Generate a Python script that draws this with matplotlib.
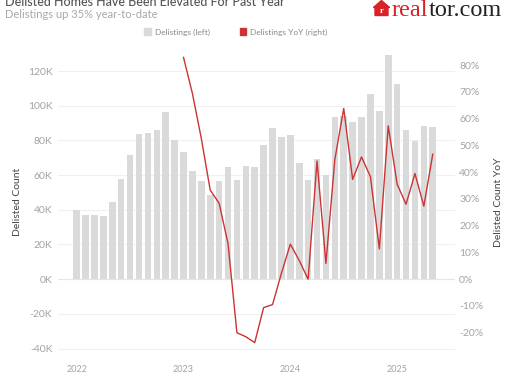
import matplotlib
matplotlib.use("Agg")
import matplotlib.pyplot as plt
from matplotlib.patches import Patch, Polygon
from matplotlib.ticker import FuncFormatter

plt.rcParams['font.family'] = ['Lato', 'DejaVu Sans']

# ---- data (Jan 2022 .. May 2025) ----
delistings_k = [40.0, 37.2, 36.8, 36.2, 44.3, 57.5, 71.8, 83.7, 84.3, 86.2, 96.6, 80.3,
                73.2, 62.6, 56.7, 48.3, 56.7, 64.6, 57.3, 65.5, 64.4, 77.2, 87.2, 82.2,
                83.0, 67.0, 56.9, 69.5, 60.0, 93.5, 94.0, 90.4, 93.7, 106.7, 97.1, 129.3,
                112.5, 86.0, 79.5, 88.5, 87.9]
# YoY (%) from Jan 2023
yoy_pct = [82.9, 69.4, 52.6, 33.3, 28.4, 13.3, -20.0, -21.5, -23.7, -10.6, -9.5, 2.2,
           13.1, 7.0, 0.0, 44.2, 5.9, 44.7, 63.8, 37.3, 45.7, 38.3, 11.3, 57.3,
           35.5, 28.0, 39.5, 27.3, 46.7]
year_labels = ['2022', '2023', '2024', '2025']
left_ticks_k = [-40, -20, 0, 20, 40, 60, 80, 100, 120]
right_ticks_pct = [-20, -10, 0, 10, 20, 30, 40, 50, 60, 70, 80]

W, H = 510, 382
fig = plt.figure(figsize=(W / 100, H / 100), dpi=100)
fig.patch.set_facecolor('white')

ax = fig.add_axes([58 / W, 30 / H, (455 - 58) / W, 300 / H])
ax2 = ax.twinx()

x = list(range(len(delistings_k)))
bar_color = '#dadada'
red = '#cc3333'
tick_color = '#a3a3a3'

ax.bar(x, [v * 1000 for v in delistings_k], width=0.74, color=bar_color, zorder=2)
x_yoy = x[len(x) - len(yoy_pct):]
ax2.plot(x_yoy, [v / 100 for v in yoy_pct], color=red, lw=1.0, zorder=3)

ax.set_xlim(-2.1, 42.5)
ax.set_ylim(-42000, 131000)
ax2.set_ylim(-0.272, 0.849)

ax.set_yticks([t * 1000 for t in left_ticks_k])
ax.yaxis.set_major_formatter(FuncFormatter(lambda v, p: f"{int(round(v / 1000))}K"))
ax2.set_yticks([t / 100 for t in right_ticks_pct])
ax2.yaxis.set_major_formatter(FuncFormatter(lambda v, p: f"{int(round(v * 100))}%"))

ax.set_xticks([0, 12, 24, 36])
ax.set_xticklabels(year_labels)

for a in (ax, ax2):
    for s in a.spines.values():
        s.set_visible(False)
    a.tick_params(length=0, colors=tick_color, labelsize=7.5)
ax.tick_params(axis='y', pad=4)
ax2.tick_params(axis='y', pad=3)
ax.tick_params(axis='x', pad=9, labelsize=6.5)

ax.set_axisbelow(True)
ax.grid(axis='y', color='#f0f0f0', lw=0.8, zorder=0)
ax.axhline(0, color='#e6e6e6', lw=0.8, zorder=1)

ax.set_ylabel('Delisted Count', fontsize=7.5, color='#444444', labelpad=4)
ax2.set_ylabel('Delisted Count YoY', fontsize=7.5, color='#444444', labelpad=8)
ax.set_xlabel('Month', fontsize=7.5, color='#444444', labelpad=7)

# title / subtitle
fig.text(5 / W, 1 - 6 / H, 'Delisted Homes Have Been Elevated For Past Year',
         fontsize=9, color='#555555', ha='left', va='baseline', fontweight='medium')
fig.text(5 / W, 1 - 14 / H, 'Delistings up 35% year-to-date',
         fontsize=8, color='#a8a8a8', ha='left', va='center')

# legend
handles = [Patch(color=bar_color, label='Delistings (left)'),
           Patch(color=red, label='Delistings YoY (right)')]
leg = fig.legend(handles=handles, loc='center', bbox_to_anchor=(236 / W, 1 - 32 / H),
                 ncol=2, frameon=False, fontsize=6, handlelength=0.75, handleheight=0.75,
                 handletextpad=0.5, columnspacing=3.6)
for t in leg.get_texts():
    t.set_color('#888888')

# logo
hx, hy = 375 / W, 1 - 15.5 / H
house = Polygon([(hx, hy), (hx, hy + 8 / H), (hx - 1.5 / W, hy + 8 / H),
                 (hx + 6.5 / W, hy + 15 / H), (hx + 14.5 / W, hy + 8 / H),
                 (hx + 13 / W, hy + 8 / H), (hx + 13 / W, hy)],
                closed=True, transform=fig.transFigure, color='#d92228')
fig.patches.append(house)
fig.text(hx + 6.5 / W, hy + 4.5 / H, 'r', fontsize=6, color='white', ha='center', va='center',
         fontweight='bold', family='Liberation Serif')
t1 = fig.text(392 / W, 1 - 15.5 / H, 'real', fontsize=17.5, color='#d92228',
              family='Liberation Serif', ha='left', va='baseline')
fig.canvas.draw()
bb = t1.get_window_extent()
fig.text(bb.x1 / W, 1 - 15.5 / H, 'tor.com', fontsize=17.5, color='#222222',
         family='Liberation Serif', ha='left', va='baseline')

fig.savefig('out.png', dpi=100)
